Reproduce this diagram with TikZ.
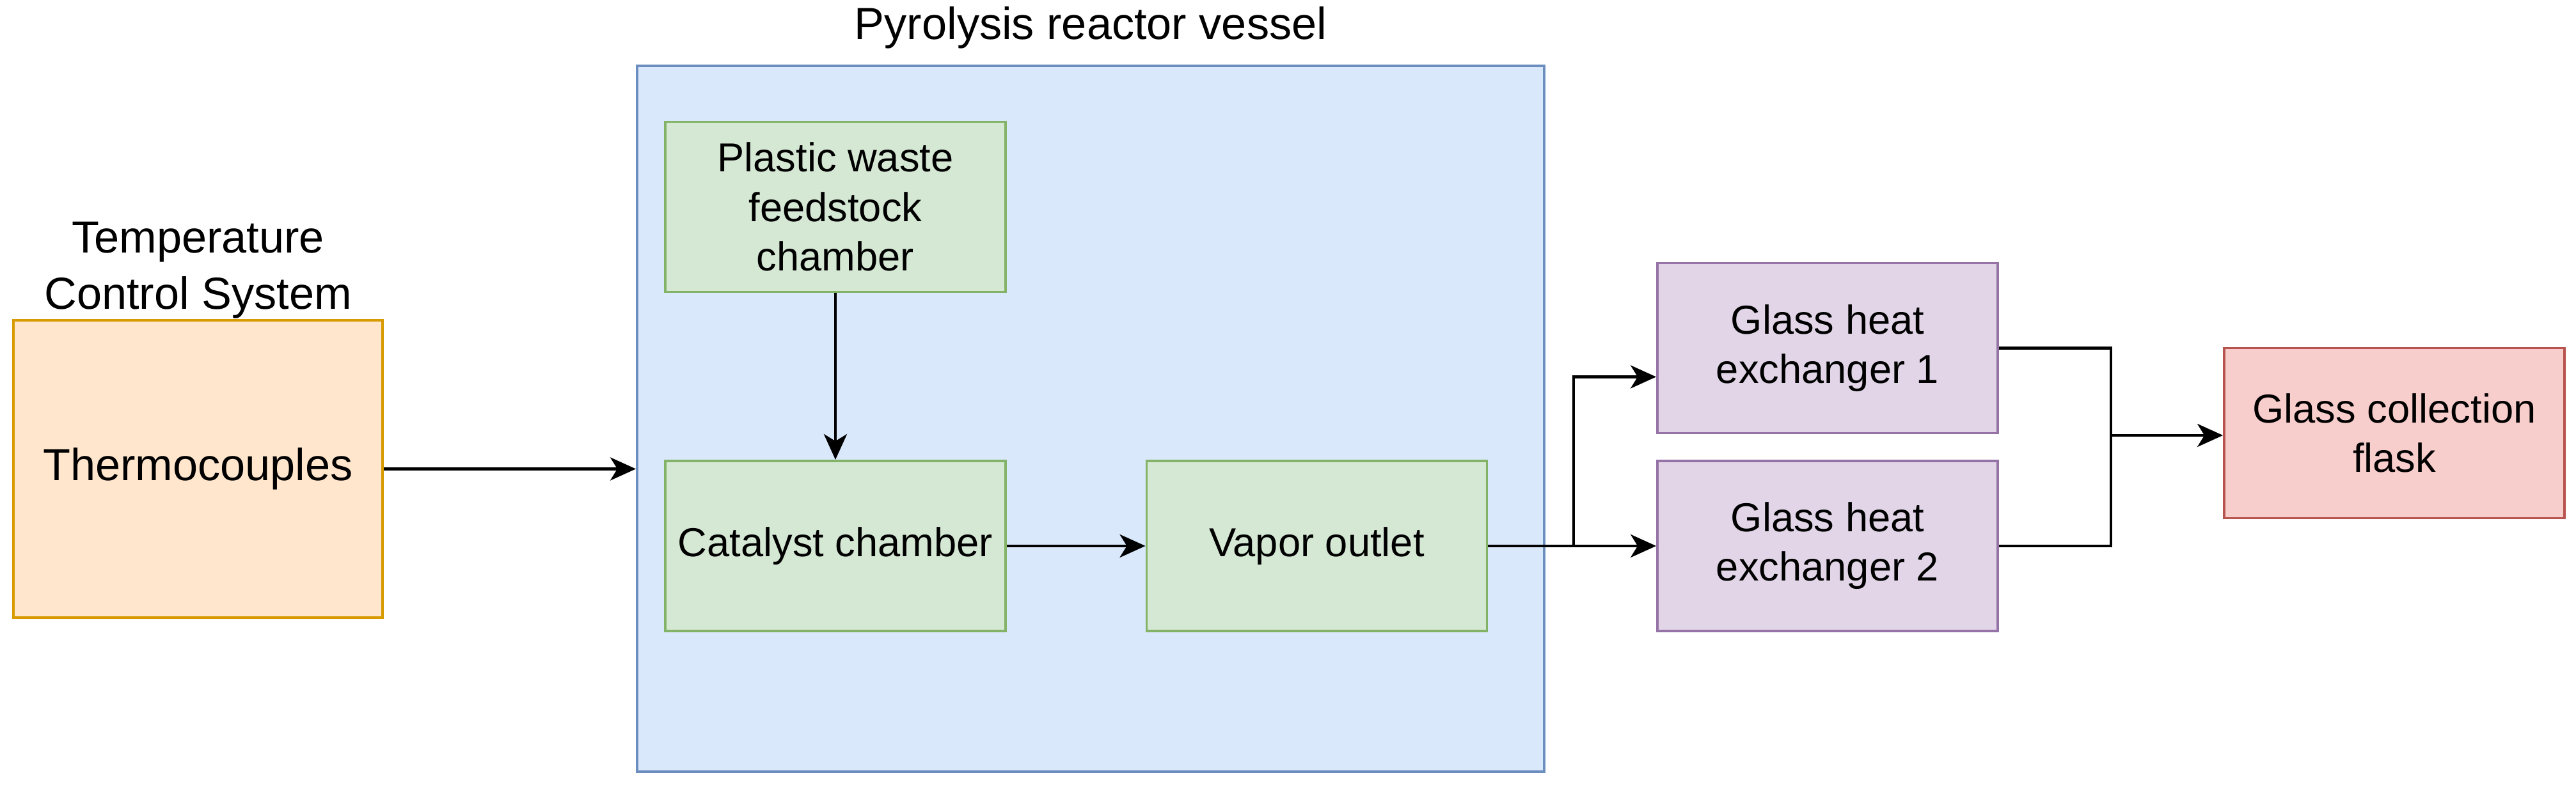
\documentclass[tikz,border=0pt]{standalone}
\usepackage{fontspec}
\setmainfont{Liberation Sans}
\usepackage{tikz}
\usepackage{xcolor}
\usetikzlibrary{shapes,arrows.meta,positioning,calc}

\definecolor{orangefill}{HTML}{FFE6CC}
\definecolor{orangeline}{HTML}{D79B00}
\definecolor{bluefill}{HTML}{DAE8FC}
\definecolor{blueline}{HTML}{6C8EBF}
\definecolor{greenfill}{HTML}{D5E8D4}
\definecolor{greenline}{HTML}{82B366}
\definecolor{purplefill}{HTML}{E1D5E7}
\definecolor{purpleline}{HTML}{9673A6}
\definecolor{redfill}{HTML}{F8CECC}
\definecolor{redline}{HTML}{B85450}

\tikzset{
    unit/.style={draw, line width=1.1pt, rectangle, minimum width=5.32cm, minimum height=2.66cm,
        align=center, inner sep=2pt, font=\fontsize{18}{22}\selectfont},
    title/.style={align=center, inner sep=0pt, font=\fontsize{20}{25}\selectfont},
    flow/.style={line width=1.3pt, -{Stealth[length=0.4cm, width=0.36cm, inset=0.11cm]}},
    line/.style={line width=1.3pt}
}

\begin{document}
\begin{tikzpicture}
    \useasboundingbox (0,0) rectangle (40.27,12.31);

    % Reactor vessel
    \node[draw=blueline, fill=bluefill, line width=1.1pt, minimum width=14.18cm, minimum height=11.04cm] (vessel) at (17.05,5.76) {};
    \node[title, above=0.24cm of vessel] (vtitle) {Pyrolysis reactor vessel};

    % Temperature control
    \node[unit, draw=orangeline, fill=orangefill, minimum width=5.77cm, minimum height=4.65cm,
        font=\fontsize{20}{24}\selectfont] (thermo) at (3.095,4.975) {Thermocouples};
    \node[title, above=0cm of thermo] (ttitle) {Temperature\\Control System};

    % Units inside the vessel
    \node[unit, draw=greenline, fill=greenfill] (feed) at (13.06,9.075) {Plastic waste\\feedstock\\chamber};
    \node[unit, draw=greenline, fill=greenfill] (cat) at (13.06,3.77) {Catalyst chamber};
    \node[unit, draw=greenline, fill=greenfill] (vapor) at (20.585,3.77) {Vapor outlet};

    % Heat exchangers and flask
    \node[unit, draw=purpleline, fill=purplefill] (ghe1) at (28.57,6.865) {Glass heat\\exchanger 1};
    \node[unit, draw=purpleline, fill=purplefill] (ghe2) at (28.57,3.77) {Glass heat\\exchanger 2};
    \node[unit, draw=redline, fill=redfill] (flask) at (37.43,5.535) {Glass collection\\flask};

    % Junctions
    \coordinate (split) at (24.6,3.77);
    \coordinate (in1) at ([yshift=-0.45cm]ghe1.west);
    \coordinate (join) at (33.0,5.5);

    % Connectors
    \draw[flow] (thermo.east) -- (thermo.east -| vessel.west);
    \draw[flow] (feed.south) -- (cat.north);
    \draw[flow] (cat.east) -- (vapor.west);
    \draw[flow] (vapor.east) -- (ghe2.west);
    \draw[flow] (split) |- (in1);
    \draw[line] (ghe1.east) -| (join);
    \draw[line] (ghe2.east) -| (join);
    \draw[flow] (join) -- (join -| flask.west);
\end{tikzpicture}
\end{document}
